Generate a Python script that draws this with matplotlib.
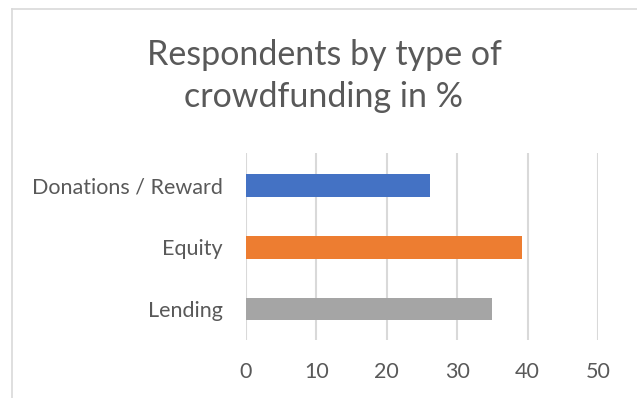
import matplotlib
matplotlib.use('Agg')
import matplotlib.pyplot as plt
from matplotlib.lines import Line2D

plt.rcParams['font.family'] = ['Lato', 'DejaVu Sans']

categories = ['Lending', 'Equity', 'Donations / Reward']
values = [34.9, 39.2, 26.1]
colors = ['#a5a5a5', '#ed7d31', '#4472c4']
xticks = [0, 10, 20, 30, 40, 50]

text_col = '#595959'
grid_col = '#d9d9d9'

fig = plt.figure(figsize=(6.37, 3.98), dpi=100)
ax = fig.add_axes([246 / 637, 1 - 340 / 398, (598 - 246) / 637, (340 - 153) / 398])

ax.barh(range(len(categories)), values, height=0.37, color=colors, zorder=3)

ax.set_xlim(0, 50)
ax.set_ylim(-0.5, 2.52)
ax.set_xticks(xticks)
ax.set_yticks(range(len(categories)))
ax.set_yticklabels(categories)
ax.grid(axis='x', color=grid_col, linewidth=1.5, zorder=0)
for s in ax.spines.values():
    s.set_visible(False)
ax.tick_params(axis='both', length=0, labelsize=15.5, labelcolor=text_col)
ax.tick_params(axis='x', pad=16)
ax.tick_params(axis='y', pad=17)

fig.text(324 / 637, 1 - 76 / 398, 'Respondents by type of\ncrowdfunding in %',
         ha='center', va='center', fontsize=24.5, color=text_col, linespacing=1.42)

# chart area border (left and top edges)
fig.add_artist(Line2D([11.5 / 637, 11.5 / 637], [0, 1 - 8.5 / 398],
                      transform=fig.transFigure, color=grid_col, linewidth=1.2))
fig.add_artist(Line2D([11.5 / 637, 1], [1 - 8.5 / 398, 1 - 8.5 / 398],
                      transform=fig.transFigure, color=grid_col, linewidth=1.2))

fig.savefig('out.png', dpi=100)
